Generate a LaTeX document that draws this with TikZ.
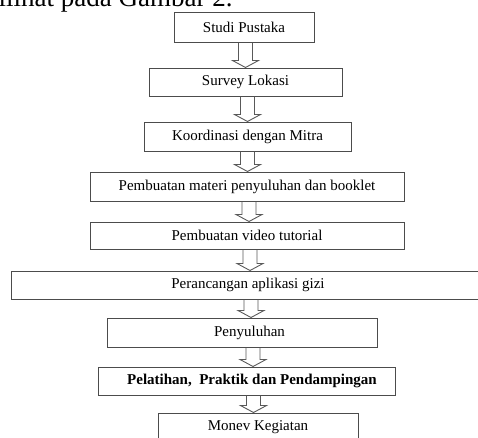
\documentclass[tikz,border=0pt]{standalone}
\usepackage{fontspec}
\setmainfont{Liberation Serif}
\usetikzlibrary{calc}
\tikzset{
  stepbox/.style={draw=black!70, line width=1pt, inner sep=0pt, font=\fontsize{15}{17}\selectfont},
  hollow/.style={draw=black!65, line width=0.9pt, line join=miter}
}
% hollow down arrow between two boxes, at a given x
\newcommand{\flowarrow}[3]{
  \path (#3,0 |- #1.south) coordinate (atop) (#3,0 |- #2.north) coordinate (abot);
  \draw[hollow] ($(atop)+(-7,0)$) -- ($(abot)+(-7,-7)$) -- ($(abot)+(-13,-7)$)
    -- (abot) -- ($(abot)+(13,-7)$) -- ($(abot)+(7,-7)$) -- ($(atop)+(7,0)$);
}
\begin{document}
\begin{tikzpicture}[x=1pt, y=-1pt]
    \clip (0,0) rectangle (478,437);
    \node[anchor=base east, font=\fontsize{27}{30}\selectfont] (intro) at (236,6) {dilihat pada Gambar 2.};
    \node[stepbox, minimum width=140, minimum height=29.5] (studi) at (244,27.5) {Studi Pustaka};
    \node[stepbox, minimum width=193, minimum height=28] (survey) at (245.5,82) {Survey Lokasi};
    \node[stepbox, minimum width=207, minimum height=29] (mitra) at (247.5,136.5) {Koordinasi dengan Mitra};
    \node[stepbox, minimum width=314, minimum height=29] (materi) at (247,186.5) {Pembuatan materi penyuluhan\ dan booklet};
    \node[stepbox, minimum width=314, minimum height=27] (video) at (247,235.5) {Pembuatan video tutorial};
    \node[stepbox, minimum width=474, minimum height=28] (aplikasi) at (248,285) {Perancangan aplikasi\ gizi};
    \node[stepbox, minimum width=270, minimum height=29] (penyuluhan) at (242,332.5) {\hspace{15pt}Penyuluhan};
    \node[stepbox, minimum width=297, minimum height=28] (pelatihan) at (246.5,381) {\hspace{11pt}\textbf{Pelatihan,\ \ Praktik\ dan\ Pendampingan}};
    \node[stepbox, minimum width=200, minimum height=29] (monev) at (258,427.5) {Monev Kegiatan};
    \flowarrow{studi}{survey}{245.5}
    \flowarrow{survey}{mitra}{247.5}
    \flowarrow{mitra}{materi}{247.5}
    \flowarrow{materi}{video}{249}
    \flowarrow{video}{aplikasi}{250}
    \flowarrow{aplikasi}{penyuluhan}{251}
    \flowarrow{penyuluhan}{pelatihan}{253}
    \flowarrow{pelatihan}{monev}{253.5}
  \end{tikzpicture}
\end{document}
